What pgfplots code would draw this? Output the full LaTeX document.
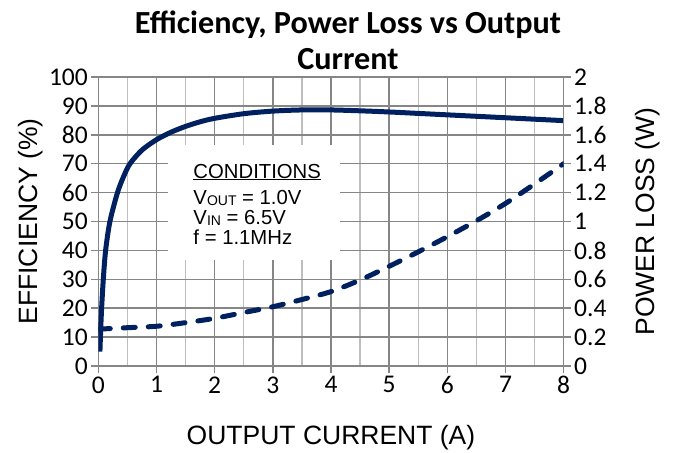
\documentclass[border=0pt]{standalone}
\usepackage{fontspec}
\setmainfont{Liberation Sans}
\newfontfamily\calfont{Carlito}
\usepackage{pgfplots}
\pgfplotsset{compat=1.18}
\definecolor{navy}{RGB}{0,32,96}
\definecolor{gmaj}{RGB}{134,134,134}
\definecolor{gmin}{RGB}{190,190,190}
\newcommand{\sub}[1]{\raisebox{-1.5bp}{\fontsize{14bp}{16bp}\selectfont #1}}
\begin{document}
\begin{tikzpicture}
\useasboundingbox (0,0) rectangle (675bp,453bp);
\pgfplotsset{
  common/.style={
    at={(98.3bp,87bp)}, anchor=south west,
    scale only axis, width=465.4bp, height=289bp,
    xmin=0, xmax=8,
    /pgf/number format/assume math mode=true,
    tick label style={font=\calfont\fontsize{25.5bp}{30bp}\selectfont, text=black},
    label style={font=\fontsize{26.5bp}{31bp}\selectfont},
    tick align=outside, major tick length=7bp, minor tick length=0pt,
    every tick/.style={gmaj, line width=1.5bp},
    axis line style={gmaj, line width=1.5bp},
  }
}
\begin{axis}[common,
  ymin=0, ymax=100,
  xtick={0,1,...,8}, minor xtick={0.5,1.5,...,7.5},
  ytick={0,10,...,100},
  xtick pos=left, ytick pos=left,
  xmajorgrids, xminorgrids, ymajorgrids,
  major grid style={gmaj, line width=1.5bp},
  minor grid style={gmin, line width=1.5bp},
  xlabel={OUTPUT CURRENT (A)},
  ylabel={EFFICIENCY (\%)},
  xlabel style={at={(axis description cs:0.5,-0.273)}, anchor=base},
  ylabel style={at={(axis description cs:-0.1296,0.5)}, anchor=base, rotate=0},
]
\fill[white] (axis cs:1.2,36.7) rectangle (axis cs:4.15,76.5);
\node[anchor=base west, inner sep=0, font=\fontsize{20.3bp}{24bp}\selectfont] at (axis cs:1.633,65.05) {\underline{CONDITIONS}};
\node[anchor=base west, inner sep=0, font=\fontsize{20.3bp}{24bp}\selectfont] at (axis cs:1.633,55.9) {V\sub{OUT} = 1.0V};
\node[anchor=base west, inner sep=0, font=\fontsize{20.3bp}{24bp}\selectfont] at (axis cs:1.633,49.1) {V\sub{IN} = 6.5V};
\node[anchor=base west, inner sep=0, font=\fontsize{20.3bp}{24bp}\selectfont] at (axis cs:1.633,42.0) {f = 1.1MHz};
\addplot[navy, line width=5bp, smooth, tension=0.5] coordinates {
(0.028,5) (0.04,12) (0.057,20) (0.086,30) (0.126,40) (0.2,50)
(0.33,60) (0.44,65.8) (0.545,70) (0.75,74.7) (1,78.3) (1.25,80.9)
(1.5,82.9) (1.75,84.5) (2,85.7) (2.5,87.3) (3,88.2) (3.5,88.6)
(4,88.6) (4.5,88.3) (5,87.9) (5.5,87.4) (6,86.9) (6.5,86.4)
(7,85.9) (7.5,85.4) (8,84.9)
};
\end{axis}
\begin{axis}[common,
  ymin=0, ymax=2,
  axis x line=none, axis y line*=right,
  ytick={0,0.2,0.4,0.6,0.8,1,1.2,1.4,1.6,1.8,2},
  yticklabels={0,0.2,0.4,0.6,0.8,1,1.2,1.4,1.6,1.8,2},
  ylabel={POWER LOSS (W)},
  ylabel style={at={(axis description cs:1.196,0.5)}, anchor=base, rotate=0},
]
\addplot[navy, line width=5bp, line cap=round, dash pattern=on 12bp off 13bp, smooth, tension=0.5] coordinates {
(0,0.255) (0.5,0.265) (1,0.275) (1.5,0.30) (2,0.33) (2.5,0.37) (3,0.41)
(3.5,0.46) (4,0.515) (4.5,0.595) (5,0.69) (5.5,0.79) (6,0.895)
(6.5,1.005) (7,1.125) (7.5,1.26) (8,1.40)
};
\end{axis}
\node[anchor=base, font=\calfont\bfseries\fontsize{32.2bp}{37bp}\selectfont] at (348bp,419bp) {Efficiency, Power Loss vs Output};
\node[anchor=base, font=\calfont\bfseries\fontsize{32.2bp}{37bp}\selectfont] at (348bp,383bp) {Current};
\end{tikzpicture}
\end{document}
